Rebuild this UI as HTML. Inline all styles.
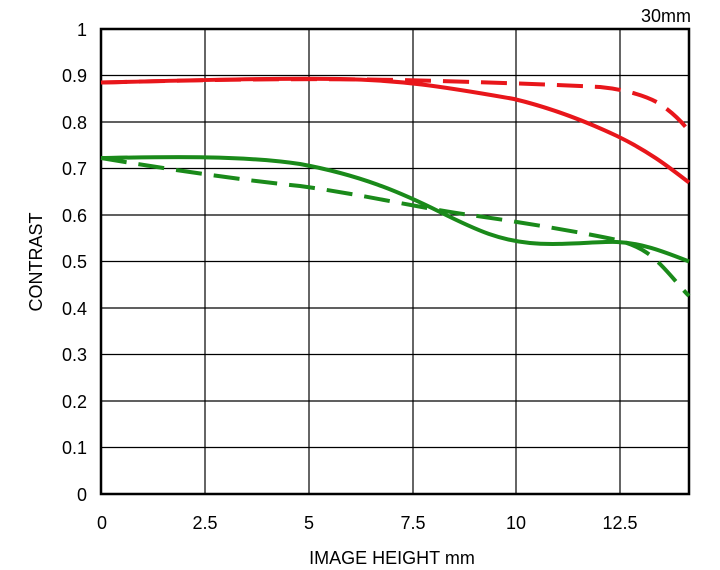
<!DOCTYPE html>
<html><head><meta charset="utf-8"><style>body{margin:0;background:#fff}svg{display:block}</style></head><body>
<svg width="720" height="570" xmlns="http://www.w3.org/2000/svg" font-family="Liberation Sans, sans-serif">
<rect width="720" height="570" fill="#fff"/>
<g stroke="#000" stroke-width="1.2">
<line x1="101" y1="75.5" x2="689" y2="75.5"/><line x1="101" y1="122" x2="689" y2="122"/><line x1="101" y1="168.5" x2="689" y2="168.5"/><line x1="101" y1="215" x2="689" y2="215"/><line x1="101" y1="261.5" x2="689" y2="261.5"/><line x1="101" y1="308" x2="689" y2="308"/><line x1="101" y1="354.5" x2="689" y2="354.5"/><line x1="101" y1="401" x2="689" y2="401"/><line x1="101" y1="447.5" x2="689" y2="447.5"/>
<line x1="205" y1="29" x2="205" y2="494"/><line x1="309" y1="29" x2="309" y2="494"/><line x1="413" y1="29" x2="413" y2="494"/><line x1="516" y1="29" x2="516" y2="494"/><line x1="620" y1="29" x2="620" y2="494"/>
</g>
<rect x="101" y="29" width="588" height="465" fill="none" stroke="#000" stroke-width="2.5"/>
<g fill="none" stroke-width="4" stroke-linecap="butt">
<path d="M101,82.5 C200,80 280,78 340,79 C400,80 440,86 514,99 C560,110 600,128 617,136 C650,152 670,168 689,182.5" stroke="#e8161b"/>
<path d="M101,82.5 C200,80 300,78 400,80 C480,82 540,84 600,87 C630,90 650,98 659,103.4 C672,112 682,122 689,131" stroke="#e8161b" stroke-dasharray="26,12"/>
<path d="M101,158 C160,157 240,155 300,164 C360,175 400,192 440,212 C480,232 500,240 530,243 C560,246 600,241 617,242 C640,243 660,250 689,261.5" stroke="#1a8a1a"/>
<path d="M101,158 C160,168 240,180 300,186 C360,194 420,208 470,215 C520,222 580,232 617,240 C640,246 650,254 660,264 C672,276 680,287 689,296" stroke="#1a8a1a" stroke-dasharray="26,12"/>
</g>
<g font-size="18" fill="#000" text-anchor="end">
<text x="87" y="36">1</text><text x="87" y="82">0.9</text><text x="87" y="129">0.8</text><text x="87" y="175">0.7</text><text x="87" y="222">0.6</text><text x="87" y="268">0.5</text><text x="87" y="315">0.4</text><text x="87" y="361">0.3</text><text x="87" y="408">0.2</text><text x="87" y="454">0.1</text><text x="87" y="501">0</text>
</g>
<g font-size="18" fill="#000" text-anchor="middle">
<text x="102" y="529">0</text><text x="205" y="529">2.5</text><text x="309" y="529">5</text><text x="413" y="529">7.5</text><text x="516" y="529">10</text><text x="620" y="529">12.5</text>
<text x="392" y="564">IMAGE HEIGHT   mm</text>
<text x="666" y="22">30mm</text>
<text transform="translate(42,262) rotate(-90)">CONTRAST</text>
</g>
</svg>
</body></html>
